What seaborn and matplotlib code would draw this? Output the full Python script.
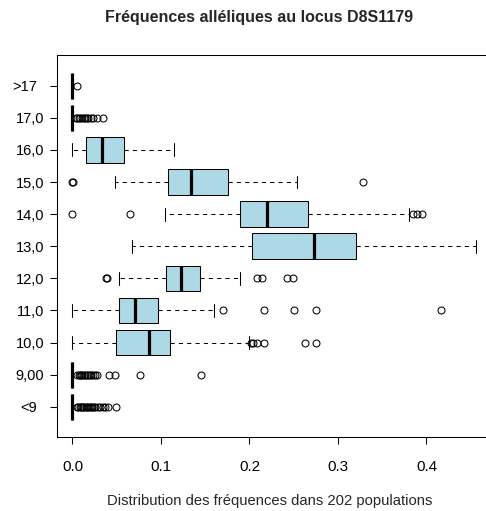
import numpy as np
import pandas as pd
import matplotlib
matplotlib.use("Agg")
import matplotlib.pyplot as plt
from matplotlib.transforms import ScaledTranslation
import seaborn as sns

# ---- data ----
categories = [">17", "17,0", "16,0", "15,0", "14,0", "13,0", "12,0", "11,0", "10,0", "9,00", "<9"]
whisker_low = [0.0, 0.0, 0.0, 0.048, 0.105, 0.067, 0.053, 0.0, 0.0, 0.0, 0.0]
q1 = [0.0, 0.0, 0.0158, 0.1084, 0.1893, 0.2025, 0.106, 0.0523, 0.0497, 0.0, 0.0]
median = [0.0, 0.0, 0.0335, 0.1336, 0.220, 0.2728, 0.1223, 0.0708, 0.0869, 0.0, 0.0]
q3 = [0.0, 0.0, 0.058, 0.176, 0.2664, 0.3199, 0.1445, 0.0967, 0.1099, 0.0, 0.0]
whisker_high = [0.0, 0.0, 0.1148, 0.2532, 0.3804, 0.4564, 0.1893, 0.1603, 0.199, 0.0, 0.0]
outliers = [
    [0.005],
    [0.004, 0.0055, 0.0075, 0.009, 0.011, 0.0125, 0.014, 0.0165, 0.018, 0.0205, 0.023, 0.0275, 0.034],
    [],
    [0.0, 0.0005, 0.328],
    [0.0, 0.065, 0.3845, 0.3895, 0.3955],
    [],
    [0.038, 0.039, 0.208, 0.214, 0.242, 0.2495],
    [0.170, 0.2167, 0.2502, 0.275, 0.4161],
    [0.2013, 0.2043, 0.208, 0.2167, 0.2626, 0.275],
    [0.0056, 0.007, 0.0085, 0.0095, 0.011, 0.013, 0.0145, 0.016, 0.018, 0.0195, 0.021, 0.0235, 0.0255,
     0.0275, 0.0418, 0.0482, 0.0764, 0.1449],
    [0.0056, 0.0068, 0.008, 0.0095, 0.0105, 0.012, 0.0135, 0.015, 0.0165, 0.018, 0.0195, 0.021, 0.0225,
     0.024, 0.026, 0.0285, 0.031, 0.034, 0.037, 0.040, 0.0493],
]
title = "Fréquences alléliques au locus D8S1179"
xlabel = "Distribution des fréquences dans 202 populations"
xticks = [0.0, 0.1, 0.2, 0.3, 0.4]
xticklabels = ["0.0", "0.1", "0.2", "0.3", "0.4"]


def sample_from_summary(lo, a, m, b, hi, outs):
    """Sample whose 25/50/75 percentiles, whisker ends and fliers equal the read summary."""
    out_lo = sorted(v for v in outs if v < m)
    out_hi = sorted(v for v in outs if v > m)
    k = max(len(out_lo), len(out_hi)) + 2
    lower = out_lo + [lo] + [a] * (k - 1 - len(out_lo))
    mid1 = [a] * k
    mid2 = [m] + [b] * (k - 1)
    upper = [b] * (k - len(out_hi)) + [hi] + out_hi
    return lower + mid1 + mid2 + upper


rows = []
for i, cat in enumerate(categories):
    vals = sample_from_summary(whisker_low[i], q1[i], median[i], q3[i], whisker_high[i], outliers[i])
    rows += [(cat, v) for v in vals]
df = pd.DataFrame(rows, columns=["allele", "freq"])

sns.set_style("ticks")
plt.rcParams["font.family"] = ["Liberation Sans", "DejaVu Sans"]

fig = plt.figure(figsize=(4.86, 5.11), dpi=100)
ax = fig.add_axes([0.1163, 0.1448, 0.896, 0.7466])

sns.boxplot(
    data=df, x="freq", y="allele", order=categories, orient="y", ax=ax,
    whis=1.5, width=0.8, saturation=1, color="#ADD8E6", linecolor="black", linewidth=0.75,
    boxprops=dict(facecolor="#ADD8E6", edgecolor="black", linewidth=0.75),
    medianprops=dict(color="black", linewidth=2.3, solid_capstyle="butt"),
    whiskerprops=dict(color="black", linewidth=0.75, linestyle=(0, (4, 4))),
    capprops=dict(color="black", linewidth=0.75),
    flierprops=dict(marker="o", markersize=5, markerfacecolor="none",
                    markeredgecolor="black", markeredgewidth=0.75),
    capwidths=0.4,
)

ax.set_xlim(-0.018, 0.474)
ax.set_ylim(10.94, -0.94)
ax.set_xticks(xticks)
ax.set_xticklabels(xticklabels)
ax.set_xlabel("")
ax.set_ylabel("")
for s in ax.spines.values():
    s.set_visible(True)
    s.set_color("black")
    s.set_linewidth(0.75)
ax.tick_params(axis="both", which="major", length=5.2, width=0.75, color="black",
               labelcolor="black")
ax.tick_params(axis="x", pad=11, labelsize=11)
ax.tick_params(axis="y", pad=3.5, labelsize=10.5)

# labels without decimals sit a little further left in the reference
for lab in ax.get_yticklabels():
    if lab.get_text() in (">17", "<9"):
        lab.set_transform(lab.get_transform() + ScaledTranslation(-0.07, 0, fig.dpi_scale_trans))

fig.text(0.534, 0.965, title, ha="center", va="center", fontsize=11.5, fontweight="bold")
fig.text(0.5556, 1 - 505 / 511, xlabel, ha="center", va="baseline", fontsize=10.6)

fig.savefig("out.png", dpi=100)
